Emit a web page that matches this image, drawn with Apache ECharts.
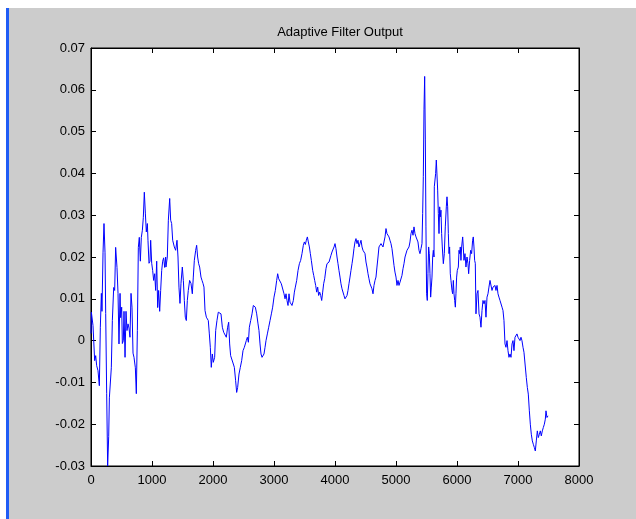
<!DOCTYPE html>
<html>
<head>
<meta charset="utf-8">
<style>
  html, body { margin: 0; padding: 0; background: #ffffff; }
  #chart { width: 636px; height: 519px; }
</style>
<script src="https://cdn.jsdelivr.net/npm/echarts@6/dist/echarts.min.js"></script>
</head>
<body>
<div id="chart"></div>
<script>
// Adaptive filter output, [sample index, amplitude], in consecutive stretches
const stretchA = [[0,0.0017],[6,0.0068],[28,0.0068],[33,0.0036],[60,-0.0048],[77,-0.0036],[93,-0.006],[115,-0.0072],[137,-0.0108],[153,0.0032],[170,0.0113],[180,0.007],[197,0.021],[213,0.028],[230,0.021],[241,0.0065],[257,-0.0127],[273,-0.030],[290,-0.023],[301,-0.0137],[323,-0.014],[333,-0.0065],[350,0.0048],[372,0.0127],[388,0.012],[404,0.0223],[426,0.0175],[443,0.0113],[459,-0.0008],[476,0.0113],[486,0.0055],[503,0.008],[514,-0.0007],[530,0],[541,0.007],[558,-0.004],[574,0.007],[590,0.0024],[607,0.004],[623,0.003],[639,0.0008],[656,0.0113],[672,0.008],[689,-0.003],[705,-0.004],[727,-0.0065],[743,-0.0127],[760,0.0024],[776,0.0223],[792,0.0247],[809,0.019],[825,0.0247],[842,0.0264],[858,0.0295],[874,0.0355],[891,0.0305],[907,0.026],[924,0.028],[934,0.024],[951,0.0185],[967,0.019],[978,0.024],[995,0.0185],[1011,0.0168],[1027,0.0144],[1044,0.016],[1060,0.012],[1077,0.019],[1093,0.0079],[1109,0.012],[1126,0.007],[1142,0.012],[1159,0.0168],[1175,0.019],[1191,0.0198],[1208,0.0175],[1224,0.02]];

const stretchB = [[1229,0.0176],[1251,0.02],[1268,0.0288],[1290,0.034],[1306,0.0288],[1322,0.028],[1339,0.024],[1366,0.0224],[1388,0.0216],[1410,0.024],[1426,0.02],[1442,0.0128],[1459,0.0089],[1475,0.0137],[1497,0.0176],[1514,0.0144],[1530,0.0096],[1546,0.0056],[1563,0.0048],[1579,0.0096],[1595,0.012],[1617,0.0144],[1639,0.0137],[1661,0.0112],[1677,0.0152],[1694,0.0192],[1716,0.0216],[1732,0.0228],[1748,0.02],[1765,0.0184],[1781,0.0176],[1803,0.0152],[1820,0.0144],[1836,0.0137],[1852,0.0128],[1869,0.0072],[1891,0.0056],[1907,0.006],[1923,0.0048],[1940,0.0016],[1956,-0.0016],[1972,-0.0064],[1989,-0.0032],[2005,-0.0052],[2027,-0.004],[2044,0.0024],[2065,0.0048],[2087,0.0068],[2115,0.0064],[2131,0.0064],[2153,0.0032],[2175,0.002],[2196,0.0016],[2218,0.0008],[2240,0.0032],[2257,0.0044],[2273,-0.0008],[2289,-0.0036],[2311,-0.004],[2333,-0.0056],[2350,-0.0064],[2371,-0.0096],[2388,-0.0124],[2404,-0.0112],[2426,-0.008],[2448,-0.0064],[2470,-0.0048],[2492,-0.0024],[2508,-0.002]];

const stretchC = [[2514,-0.0016],[2530,-0.002],[2546,0],[2563,0.0008],[2580,-0.0004],[2596,0.0032],[2618,0.0048],[2640,0.0064],[2661,0.0084],[2678,0.0088],[2694,0.008],[2716,0.0064],[2738,0.004],[2754,0.0024],[2771,-0.0008],[2787,-0.0032],[2804,-0.004],[2820,-0.0036],[2836,-0.0032],[2853,-0.0016],[2869,0],[2891,0.0016],[2913,0.0032],[2935,0.0048],[2957,0.0064],[2978,0.008],[3000,0.0104],[3022,0.012],[3044,0.0144],[3060,0.016],[3077,0.0148],[3099,0.0148],[3120,0.0136],[3142,0.014],[3164,0.0112],[3181,0.01],[3197,0.0112],[3213,0.0096],[3230,0.0084],[3246,0.0112],[3262,0.0092],[3279,0.0096],[3295,0.0084],[3317,0.0096],[3334,0.0116],[3350,0.0128],[3372,0.0144],[3394,0.0168],[3416,0.0184],[3437,0.0192],[3459,0.0208],[3481,0.0228],[3498,0.0236],[3514,0.023],[3530,0.024],[3547,0.0248],[3563,0.0236],[3580,0.0224],[3596,0.0208],[3612,0.0192],[3634,0.0168],[3651,0.0156],[3667,0.0144],[3683,0.0132],[3700,0.0116],[3716,0.0128],[3732,0.0108],[3749,0.0116],[3765,0.0108],[3782,0.0096],[3798,0.0116],[3814,0.0136],[3831,0.0148]];

const stretchD = [[3852,0.0172],[3869,0.0184],[3885,0.018],[3902,0.0188],[3918,0.0184],[3934,0.0204],[3951,0.0212],[3967,0.0208],[3984,0.0224],[4000,0.0232],[4016,0.022],[4033,0.02],[4049,0.0184],[4065,0.0168],[4082,0.0152],[4098,0.0136],[4115,0.0124],[4131,0.012],[4147,0.0108],[4164,0.01],[4180,0.0096],[4197,0.0108],[4213,0.012],[4229,0.0136],[4246,0.0152],[4262,0.0168],[4279,0.0184],[4295,0.02],[4311,0.022],[4328,0.0236],[4344,0.0244],[4361,0.0232],[4377,0.024],[4393,0.0224],[4410,0.0232],[4426,0.024],[4443,0.0224],[4459,0.0216],[4475,0.0212],[4492,0.0208],[4508,0.0188],[4524,0.0176],[4541,0.016],[4557,0.0148],[4574,0.0136],[4590,0.0132],[4606,0.0124],[4623,0.0112],[4639,0.0132],[4656,0.0144],[4672,0.0152],[4688,0.0176],[4705,0.02],[4721,0.0224],[4738,0.022],[4754,0.0232],[4770,0.0228],[4787,0.0224],[4803,0.0236],[4820,0.0248],[4836,0.0268],[4852,0.0256],[4869,0.0252],[4885,0.0248],[4901,0.024],[4918,0.0232],[4934,0.022],[4951,0.02],[4967,0.018],[4983,0.0164],[5000,0.0152],[5016,0.0132],[5033,0.0144],[5049,0.0132],[5066,0.014],[5082,0.0144],[5098,0.0156],[5115,0.0172],[5131,0.0184],[5148,0.02]];

const stretchE = [[5164,0.02],[5180,0.0216],[5197,0.0212],[5213,0.0224],[5229,0.0236],[5246,0.0256],[5262,0.0264],[5279,0.0252],[5295,0.0272],[5311,0.0256],[5328,0.0248],[5344,0.0252],[5360,0.0236],[5377,0.0216],[5393,0.0208],[5410,0.022],[5426,0.0232],[5437,0.0304],[5448,0.0392],[5459,0.0552],[5470,0.0632],[5481,0.048],[5491,0.0272],[5502,0.0112],[5513,0.0096],[5524,0.016],[5535,0.0224],[5546,0.0208],[5557,0.016],[5568,0.0104],[5579,0.0128],[5590,0.0152],[5601,0.02],[5612,0.0216],[5623,0.02],[5628,0.0368],[5639,0.0372],[5650,0.04],[5661,0.0432],[5672,0.0432],[5683,0.036],[5694,0.0304],[5705,0.0256],[5716,0.032],[5726,0.0296],[5737,0.0312],[5748,0.0256],[5759,0.0224],[5776,0.0184],[5792,0.0208],[5808,0.0272],[5825,0.032],[5836,0.0344],[5847,0.032],[5858,0.0256],[5869,0.0208],[5879,0.0224],[5890,0.016],[5901,0.0144],[5918,0.012],[5929,0.0112],[5940,0.0144],[5951,0.0112],[5962,0.0096],[5973,0.008],[5983,0.0112],[5994,0.0152],[6005,0.0168],[6022,0.0176],[6033,0.0216],[6044,0.0208],[6054,0.0224],[6065,0.0192],[6076,0.0224],[6093,0.0248],[6103,0.0224],[6114,0.0192],[6131,0.0208],[6147,0.0176],[6164,0.02],[6180,0.0184],[6191,0.016],[6207,0.0192],[6224,0.0216],[6240,0.0208],[6256,0.024],[6267,0.0248],[6278,0.0224],[6289,0.0192]];

const stretchF = [[6300,0.0185],[6311,0.0064],[6328,0.0112],[6344,0.012],[6361,0.0064],[6377,0.0056],[6393,0.0032],[6410,0.0072],[6426,0.0096],[6443,0.0088],[6459,0.0096],[6475,0.0056],[6492,0.0104],[6508,0.0112],[6524,0.0128],[6541,0.0144],[6557,0.0148],[6574,0.012],[6590,0.0128],[6606,0.0124],[6623,0.0132],[6639,0.012],[6656,0.0132],[6672,0.0112],[6688,0.0104],[6705,0.0096],[6721,0.0092],[6738,0.008],[6754,0.0072],[6770,0.0048],[6787,-0.0008],[6803,-0.0016],[6820,0],[6836,-0.0024],[6852,-0.004],[6869,-0.0032],[6885,-0.004],[6902,-0.0008],[6918,0],[6934,-0.0024],[6951,0.0008],[6967,0.0012],[6983,0.0016],[7000,0.0008],[7016,0.0008],[7033,0],[7049,0.0008],[7065,0],[7082,-0.0016],[7098,-0.0028],[7115,-0.0028],[7126,-0.0024],[7136,-0.0088],[7153,-0.0112],[7169,-0.0128],[7186,-0.0168],[7202,-0.02],[7218,-0.0224],[7235,-0.024],[7251,-0.0248],[7268,-0.0256],[7284,-0.0264],[7300,-0.024],[7317,-0.0216],[7333,-0.0232],[7350,-0.0224],[7366,-0.0216],[7382,-0.0228],[7399,-0.0216],[7415,-0.0208],[7432,-0.02],[7448,-0.0188],[7459,-0.0168],[7475,-0.0184],[7492,-0.018]];

// Axis ranges and tick steps
const xRange = [0, 8000];
const xStep = 1000;
const yRange = [-0.03, 0.07];
const yStep = 0.01;
const chartTitle = 'Adaptive Filter Output';

const signal = [].concat(stretchA, stretchB, stretchC, stretchD, stretchE, stretchF);

const FONT = '"Liberation Sans", Arial, sans-serif';
const fmtX = v => String(Math.round(v));
const fmtY = v => String(parseFloat(v.toFixed(2)));

const chart = echarts.init(document.getElementById('chart'), null, { renderer: 'canvas' });

const baseX = {
  type: 'value', min: xRange[0], max: xRange[1], interval: xStep,
  axisLine: { show: true, onZero: false, lineStyle: { color: '#000', width: 1 } },
  axisTick: { show: true, inside: true, length: 5, lineStyle: { color: '#000' } },
  splitLine: { show: false }
};
const baseY = {
  type: 'value', min: yRange[0], max: yRange[1], interval: yStep,
  axisLine: { show: true, onZero: false, lineStyle: { color: '#000', width: 1 } },
  axisTick: { show: true, inside: true, length: 5, lineStyle: { color: '#000' } },
  splitLine: { show: false }
};

chart.setOption({
  animation: false,
  backgroundColor: '#ffffff',
  graphic: [
    { type: 'rect', z: -10, shape: { x: 9, y: 8, width: 627, height: 511 }, style: { fill: '#cccccc' } },
    { type: 'rect', z: -10, shape: { x: 6, y: 8, width: 3, height: 511 }, style: { fill: '#1f5cf5' } }
  ],
  title: {
    text: chartTitle,
    left: 335, top: 21, textAlign: 'center',
    textStyle: { fontFamily: FONT, fontSize: 13, fontWeight: 'normal', color: '#000' }
  },
  grid: { left: 91, top: 48, width: 488, height: 418, show: true, backgroundColor: '#ffffff', borderColor: '#000', borderWidth: 1 },
  xAxis: [
    Object.assign({}, baseX, {
      position: 'bottom',
      axisLabel: { show: true, margin: 8, fontFamily: FONT, fontSize: 13, color: '#000', formatter: fmtX }
    }),
    Object.assign({}, baseX, { position: 'top', axisLabel: { show: false } })
  ],
  yAxis: [
    Object.assign({}, baseY, {
      position: 'left',
      axisLabel: { show: true, margin: 6, fontFamily: FONT, fontSize: 13, color: '#000', formatter: fmtY }
    }),
    Object.assign({}, baseY, { position: 'right', axisLabel: { show: false } })
  ],
  series: [{
    type: 'line',
    xAxisIndex: 0, yAxisIndex: 0,
    data: signal,
    showSymbol: false,
    symbol: 'none',
    lineStyle: { color: '#0000ff', width: 1 },
    clip: true
  }]
});
</script>
</body>
</html>
